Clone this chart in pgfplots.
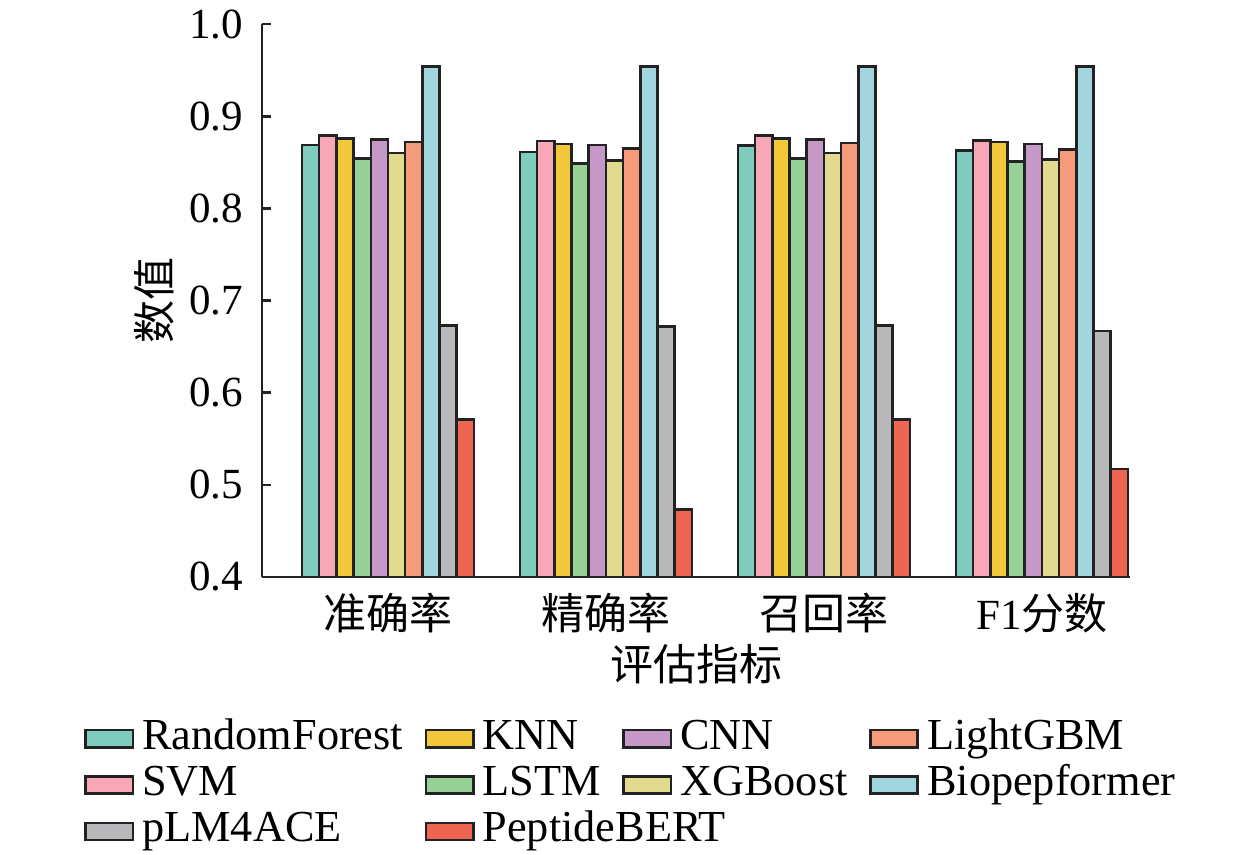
\documentclass[border=0pt]{standalone}
\usepackage{fontspec}
\setmainfont{Liberation Serif}
\newfontfamily\cjk{Noto Sans CJK SC}
\usepackage{pgfplots}
\pgfplotsset{compat=1.18}
\definecolor{cRF}{HTML}{7FCCBF}
\definecolor{cSVM}{HTML}{F7A7B6}
\definecolor{cKNN}{HTML}{F2C83A}
\definecolor{cLSTM}{HTML}{98D196}
\definecolor{cCNN}{HTML}{C698C8}
\definecolor{cXGB}{HTML}{E2DA8E}
\definecolor{cLGB}{HTML}{F59A7B}
\definecolor{cBIO}{HTML}{A1D6DF}
\definecolor{cPLM}{HTML}{B8B8BB}
\definecolor{cPEP}{HTML}{EE6551}
\definecolor{edge}{HTML}{222222}
\begin{document}
\begin{tikzpicture}
\begin{axis}[
  scale only axis, width=201.9pt, height=128.6pt,
  ybar, bar width=4pt,
  xmin=-0.578, xmax=3.404, ymin=0.4, ymax=1.0,
  axis x line*=bottom, axis y line*=left,
  axis line style={line width=0.6pt, color=edge},
  xtick={0,1,2,3},
  xticklabels={{\cjk 准确率},{\cjk 精确率},{\cjk 召回率},{F1\cjk 分数}},
  xticklabel style={inner sep=0pt, yshift=-3.6pt},
  major x tick style={draw=none},
  ytick={0.4,0.5,0.6,0.7,0.8,0.9,1.0},
  tick align=inside, major tick length=2pt,
  y tick style={line width=0.6pt, color=edge},
  /pgf/number format/assume math mode=true,
  yticklabel style={/pgf/number format/fixed,/pgf/number format/fixed zerofill,/pgf/number format/precision=1, inner sep=0pt, xshift=-4.2pt},
  ticklabel style={font=\fontsize{10}{12}\selectfont},
  ylabel={\cjk 数值},
  ylabel style={at={(rel axis cs:-0.1,0.5)}, anchor=south, rotate=0, inner sep=0pt, font=\fontsize{10}{12}\selectfont},
  xlabel={\cjk 评估指标},
  xlabel style={at={(rel axis cs:0.5,-0.1195)}, anchor=north, inner sep=0pt, font=\fontsize{10}{12}\selectfont},
  every axis plot/.append style={draw=edge, line width=0.6pt},
  legend columns=4,
  legend cell align=left,
  legend style={draw=none, fill=none, at={(rel axis cs:0.4286,-0.249)}, anchor=north, inner sep=0pt,
    font=\fontsize{10.3}{12}\selectfont,
    nodes={inner ysep=0.6pt, inner xsep=1.9pt, text height=7.2pt, text depth=2.4pt},
    /tikz/every even column/.append style={column sep=3.1pt}},
  legend image code/.code={\draw[#1, line width=0.6pt] (0pt,-2pt) rectangle (11pt,2pt);},
]
\addplot[fill=cRF, bar shift=-18pt, forget plot] coordinates {(0,0.869) (1,0.861) (2,0.868) (3,0.863)};
\addplot[fill=cSVM, bar shift=-14pt, forget plot] coordinates {(0,0.879) (1,0.873) (2,0.879) (3,0.874)};
\addplot[fill=cKNN, bar shift=-10pt, forget plot] coordinates {(0,0.876) (1,0.870) (2,0.876) (3,0.872)};
\addplot[fill=cLSTM, bar shift=-6pt, forget plot] coordinates {(0,0.854) (1,0.849) (2,0.854) (3,0.851)};
\addplot[fill=cCNN, bar shift=-2pt, forget plot] coordinates {(0,0.875) (1,0.869) (2,0.875) (3,0.870)};
\addplot[fill=cXGB, bar shift=2pt, forget plot] coordinates {(0,0.860) (1,0.852) (2,0.860) (3,0.853)};
\addplot[fill=cLGB, bar shift=6pt, forget plot] coordinates {(0,0.872) (1,0.865) (2,0.871) (3,0.864)};
\addplot[fill=cBIO, bar shift=10pt, forget plot] coordinates {(0,0.954) (1,0.954) (2,0.954) (3,0.954)};
\addplot[fill=cPLM, bar shift=14pt, forget plot] coordinates {(0,0.673) (1,0.672) (2,0.673) (3,0.667)};
\addplot[fill=cPEP, bar shift=18pt, forget plot] coordinates {(0,0.571) (1,0.473) (2,0.571) (3,0.517)};
\addlegendimage{fill=cRF, draw=edge}\addlegendentry{RandomForest}
\addlegendimage{fill=cKNN, draw=edge}\addlegendentry{KNN}
\addlegendimage{fill=cCNN, draw=edge}\addlegendentry{CNN}
\addlegendimage{fill=cLGB, draw=edge}\addlegendentry{LightGBM}
\addlegendimage{fill=cSVM, draw=edge}\addlegendentry{SVM}
\addlegendimage{fill=cLSTM, draw=edge}\addlegendentry{LSTM}
\addlegendimage{fill=cXGB, draw=edge}\addlegendentry{XGBoost}
\addlegendimage{fill=cBIO, draw=edge}\addlegendentry{Biopepformer}
\addlegendimage{fill=cPLM, draw=edge}\addlegendentry{pLM4ACE}
\addlegendimage{fill=cPEP, draw=edge}\addlegendentry{\rlap{PeptideBERT}}
\end{axis}
\path (-60.94pt,-64.2pt) rectangle (232.13pt,134.2pt);
\end{tikzpicture}
\end{document}
